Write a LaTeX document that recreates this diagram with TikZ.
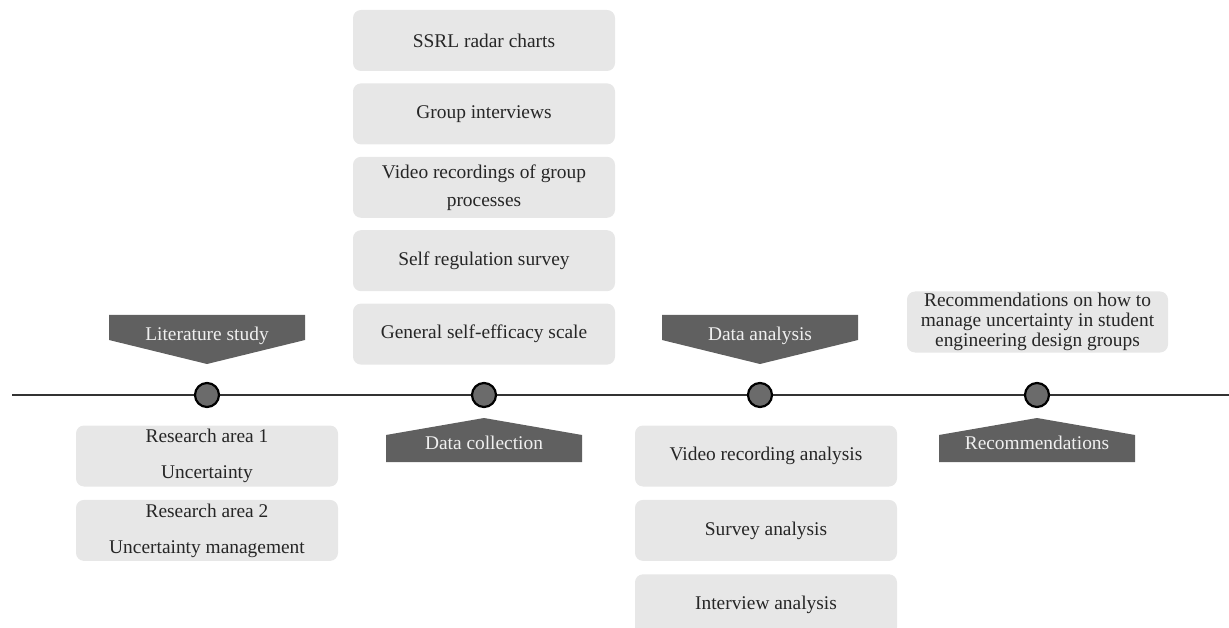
\documentclass[tikz,border=0pt]{standalone}
\usepackage{fontspec}
\setmainfont{Liberation Serif}
\usetikzlibrary{positioning,calc}
\definecolor{ink}       {HTML}{262626}
\definecolor{rule}      {HTML}{333333}
\definecolor{boxgray}   {HTML}{E7E7E7}
\definecolor{bannergray}{HTML}{606060}
\definecolor{dotgray}   {HTML}{6B6B6B}
\tikzset{
  every node/.style={font=\fontsize{19.4}{20}\selectfont},
  % --- nodes
  item/.style   = {rounded corners=8pt, fill=boxgray, text=ink, align=center,
                   minimum width=262pt, minimum height=61pt, inner sep=1pt},
  btext/.style  = {text=white!94!black},
  dot/.style    = {circle, draw=black, line width=2.2pt, fill=dotgray,
                   minimum size=24pt, inner sep=0pt},
  % --- paths
  banner/.style = {fill=bannergray},
  axis/.style   = {draw=rule, line width=2.8pt},
}
\begin{document}
\begin{tikzpicture}[x=1pt,y=-1pt]
  \useasboundingbox (0,0) rectangle (1229,628);

  % timeline
  \coordinate (start) at (12,395);
  \coordinate (end) at (1229,395);
  \draw[axis] (start) -- (end);
  \foreach \n/\x in {lit/207,coll/484,ana/760,rec/1037}
    \node[dot] (\n) at (\x,395) {};

  % phase banners
  \foreach \n in {lit,ana}
    \fill[banner] ($(\n.center)+(-98,-80)$) -- ($(\n.center)+(98,-80)$)
      -- ($(\n.center)+(98,-55)$) -- ($(\n.center)+(0,-31)$)
      -- ($(\n.center)+(-98,-55)$) -- cycle;
  \foreach \n in {coll,rec}
    \fill[banner] ($(\n.center)+(-98,67)$) -- ($(\n.center)+(98,67)$)
      -- ($(\n.center)+(98,40)$) -- ($(\n.center)+(0,23)$)
      -- ($(\n.center)+(-98,40)$) -- cycle;
  \node[btext] (litlbl)  at ($(lit.center)+(0,-59)$)  {Literature study};
  \node[btext] (analbl)  at ($(ana.center)+(0,-59)$)  {Data analysis};
  \node[btext] (colllbl) at ($(coll.center)+(0,48)$) {Data collection};
  \node[btext] (reclbl)  at ($(rec.center)+(0,48)$)  {Recommendations};

  % data collection
  \node[item] (ssrl) at (484,40.5) {SSRL radar charts};
  \node[item, below=12pt of ssrl] (grpint) {Group interviews};
  \node[item, below=12pt of grpint] (vidrec) {Video recordings of group\\[8pt]processes};
  \node[item, below=12pt of vidrec] (selfreg) {Self regulation survey};
  \node[item, below=12pt of selfreg] (gse) {General self-efficacy scale};

  % literature
  \node[item] (area1) at (207,456) {Research area 1\\[16pt]Uncertainty};
  \node[item, below=13pt of area1] (area2) {Research area 2\\[16pt]Uncertainty management};

  % analysis
  \node[item] (vidana) at (766,456) {Video recording analysis};
  \node[item, below=13pt of vidana] (survana) {Survey analysis};
  \node[item, below=13pt of survana] (intana) {Interview analysis};

  % outcome
  \node[item, minimum width=261pt] (advice) at (1037.5,322)
    {Recommendations on how to\\manage uncertainty in student\\engineering design groups};
\end{tikzpicture}
\end{document}
